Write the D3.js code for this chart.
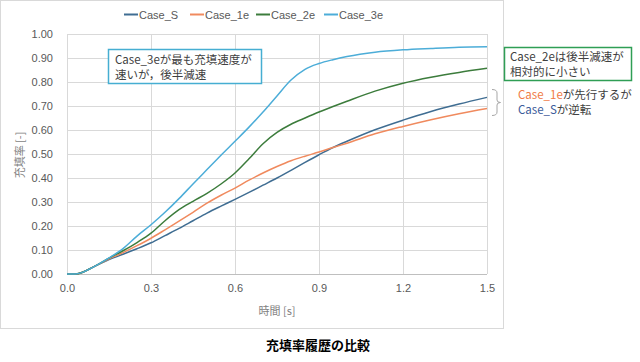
<!DOCTYPE html>
<html>
<head>
<meta charset="utf-8">
<script src="https://cdn.jsdelivr.net/npm/d3@7"></script>
<style>
  body { margin: 0; background: #fff; }
  svg text { font-family: "Liberation Sans", "Noto Sans CJK JP", sans-serif; }
  .jp { font-family: "Noto Sans CJK JP", sans-serif; }
  .grid line { stroke: #d9d9d9; stroke-width: 1; }
  .tick text { fill: #595959; font-size: 11px; }
</style>
</head>
<body>
<div id="chart"></div>
<script>
// time axis [s]
const times = [0, 0.03, 0.1, 0.15, 0.2, 0.25, 0.3, 0.35, 0.4, 0.45, 0.5, 0.55, 0.6, 0.65,
               0.7, 0.75, 0.8, 0.85, 0.9, 0.95, 1.0, 1.1, 1.2, 1.3, 1.4, 1.5];

// filling ratio per case
const caseS  = [0, 0, 0.033, 0.060, 0.082, 0.105, 0.130, 0.160, 0.190, 0.222, 0.254, 0.283, 0.311, 0.340,
                0.370, 0.400, 0.432, 0.465, 0.497, 0.527, 0.553, 0.601, 0.641, 0.677, 0.708, 0.736];
const case1e = [0, 0, 0.033, 0.063, 0.089, 0.118, 0.149, 0.184, 0.220, 0.257, 0.295, 0.328, 0.358, 0.391,
                0.421, 0.448, 0.472, 0.491, 0.508, 0.527, 0.545, 0.584, 0.615, 0.643, 0.668, 0.690];
const case2e = [0, 0, 0.033, 0.066, 0.097, 0.131, 0.170, 0.222, 0.268, 0.303, 0.336, 0.375, 0.421, 0.480,
                0.543, 0.590, 0.624, 0.650, 0.675, 0.698, 0.720, 0.762, 0.795, 0.820, 0.840, 0.857];
const case3e = [0, 0, 0.033, 0.067, 0.106, 0.158, 0.205, 0.257, 0.314, 0.375, 0.435, 0.495, 0.553, 0.612,
                0.675, 0.742, 0.808, 0.853, 0.877, 0.893, 0.906, 0.924, 0.934, 0.940, 0.945, 0.947];

const seriesNames = ["Case_S", "Case_1e", "Case_2e", "Case_3e"];
const seriesData = [caseS, case1e, case2e, case3e];
const colors = ["#3f6d92", "#f08a5e", "#3c7c3c", "#4cadd8"];

const xTicks = [0, 0.3, 0.6, 0.9, 1.2, 1.5];
const yTicks = [0, 0.1, 0.2, 0.3, 0.4, 0.5, 0.6, 0.7, 0.8, 0.9, 1.0];

// chart area
let margin = {top: 34, right: 153, bottom: 88, left: 67},
    width = 640 - margin.left - margin.right,
    height = 362 - margin.top - margin.bottom;

let svg = d3.select("#chart")
    .append("svg")
    .attr("width", 640)
    .attr("height", 362);

// outer chart frame
svg.append("rect")
    .attr("x", 0.5).attr("y", 0.5)
    .attr("width", 503).attr("height", 328)
    .attr("fill", "none")
    .attr("stroke", "#d9d9d9");

let g = svg.append("g")
    .attr("transform", "translate(" + margin.left + "," + margin.top + ")");

let x = d3.scaleLinear().domain([0, 1.5]).range([0, width]);
let y = d3.scaleLinear().domain([0, 1]).range([height, 0]);

// grid lines
g.append("g").attr("class", "grid")
    .selectAll("line").data(yTicks).join("line")
    .attr("x1", 0).attr("x2", width)
    .attr("y1", d => Math.round(y(d)) + 0.5).attr("y2", d => Math.round(y(d)) + 0.5);

g.append("g").attr("class", "grid")
    .selectAll("line").data(xTicks).join("line")
    .attr("y1", 0).attr("y2", height)
    .attr("x1", d => Math.round(x(d)) + 0.5).attr("x2", d => Math.round(x(d)) + 0.5);

// axes (labels only)
let xAxis = g.append("g")
    .attr("transform", "translate(0," + height + ")")
    .call(d3.axisBottom(x).tickValues(xTicks).tickFormat(d3.format(".1f")).tickSize(0).tickPadding(10));
xAxis.select(".domain").remove();

let yAxis = g.append("g")
    .call(d3.axisLeft(y).tickValues(yTicks).tickFormat(d3.format(".2f")).tickSize(0).tickPadding(14));
yAxis.select(".domain").remove();

// bottom axis line
g.append("line")
    .attr("x1", 0).attr("x2", width)
    .attr("y1", height + 0.5).attr("y2", height + 0.5)
    .attr("stroke", "#bfbfbf");

// lines
const line = d3.line()
    .x((d, i) => x(times[i]))
    .y(d => y(d))
    .curve(d3.curveMonotoneX);

seriesData.forEach(function(s, i) {
    g.append("path")
        .datum(s)
        .attr("fill", "none")
        .attr("stroke", colors[i])
        .attr("stroke-width", 1.5)
        .attr("d", line);
});

// legend
const legendX = [124, 190, 256, 324];
let legend = svg.append("g");
seriesNames.forEach(function(n, i) {
    legend.append("line")
        .attr("x1", legendX[i]).attr("x2", legendX[i] + 14)
        .attr("y1", 14.5).attr("y2", 14.5)
        .attr("stroke", colors[i]).attr("stroke-width", 2);
    legend.append("text")
        .attr("x", legendX[i] + 15).attr("y", 18.5)
        .attr("font-size", 11).attr("fill", "#595959")
        .text(n);
});

// axis titles
svg.append("text")
    .attr("class", "jp")
    .attr("x", 277).attr("y", 315)
    .attr("text-anchor", "middle")
    .attr("font-size", 11).attr("fill", "#7f7f7f")
    .text("時間 [s]");

svg.append("text")
    .attr("class", "jp")
    .attr("transform", "translate(24,155) rotate(-90)")
    .attr("text-anchor", "middle")
    .attr("font-size", 11).attr("fill", "#7f7f7f")
    .text("充填率 [-]");

// chart title
svg.append("text")
    .attr("class", "jp")
    .attr("x", 318).attr("y", 350)
    .attr("text-anchor", "middle")
    .attr("font-size", 13).attr("font-weight", "bold").attr("fill", "#000")
    .text("充填率履歴の比較");

// annotation 1
svg.append("rect")
    .attr("x", 108.5).attr("y", 49.5).attr("width", 153).attr("height", 34)
    .attr("fill", "#fff").attr("stroke", "#46aed2").attr("stroke-width", 1.5);
svg.append("text").attr("class", "jp").attr("font-size", 11.5).attr("fill", "#404040")
    .attr("x", 115).attr("y", 64).text("Case_3eが最も充填速度が");
svg.append("text").attr("class", "jp").attr("font-size", 11.5).attr("fill", "#404040")
    .attr("x", 115).attr("y", 79).text("速いが，後半減速");

// annotation 2
svg.append("rect")
    .attr("x", 504.5).attr("y", 47.5).attr("width", 127).attr("height", 33)
    .attr("fill", "#fff").attr("stroke", "#2f9e55").attr("stroke-width", 1.5);
svg.append("text").attr("class", "jp").attr("font-size", 11.5).attr("fill", "#404040")
    .attr("x", 510).attr("y", 61).text("Case_2eは後半減速が");
svg.append("text").attr("class", "jp").attr("font-size", 11.5).attr("fill", "#404040")
    .attr("x", 510).attr("y", 76).text("相対的に小さい");

// brace and annotation 3
svg.append("path")
    .attr("d", "M492,89.5 Q497,89.5 497,93 L497,100 Q497,102.5 500.5,102.5 Q497,102.5 497,105 L497,112 Q497,115.5 492,115.5")
    .attr("fill", "none").attr("stroke", "#a6a6a6").attr("stroke-width", 1);

let a3 = svg.append("text").attr("class", "jp").attr("font-size", 11.5).attr("fill", "#404040")
    .attr("x", 518).attr("y", 99);
a3.append("tspan").attr("fill", "#f07b45").text("Case_1e");
a3.append("tspan").text("が先行するが");
let a4 = svg.append("text").attr("class", "jp").attr("font-size", 11.5).attr("fill", "#404040")
    .attr("x", 518).attr("y", 114);
a4.append("tspan").attr("fill", "#3b5b9a").text("Case_S");
a4.append("tspan").text("が逆転");
</script>
</body>
</html>
